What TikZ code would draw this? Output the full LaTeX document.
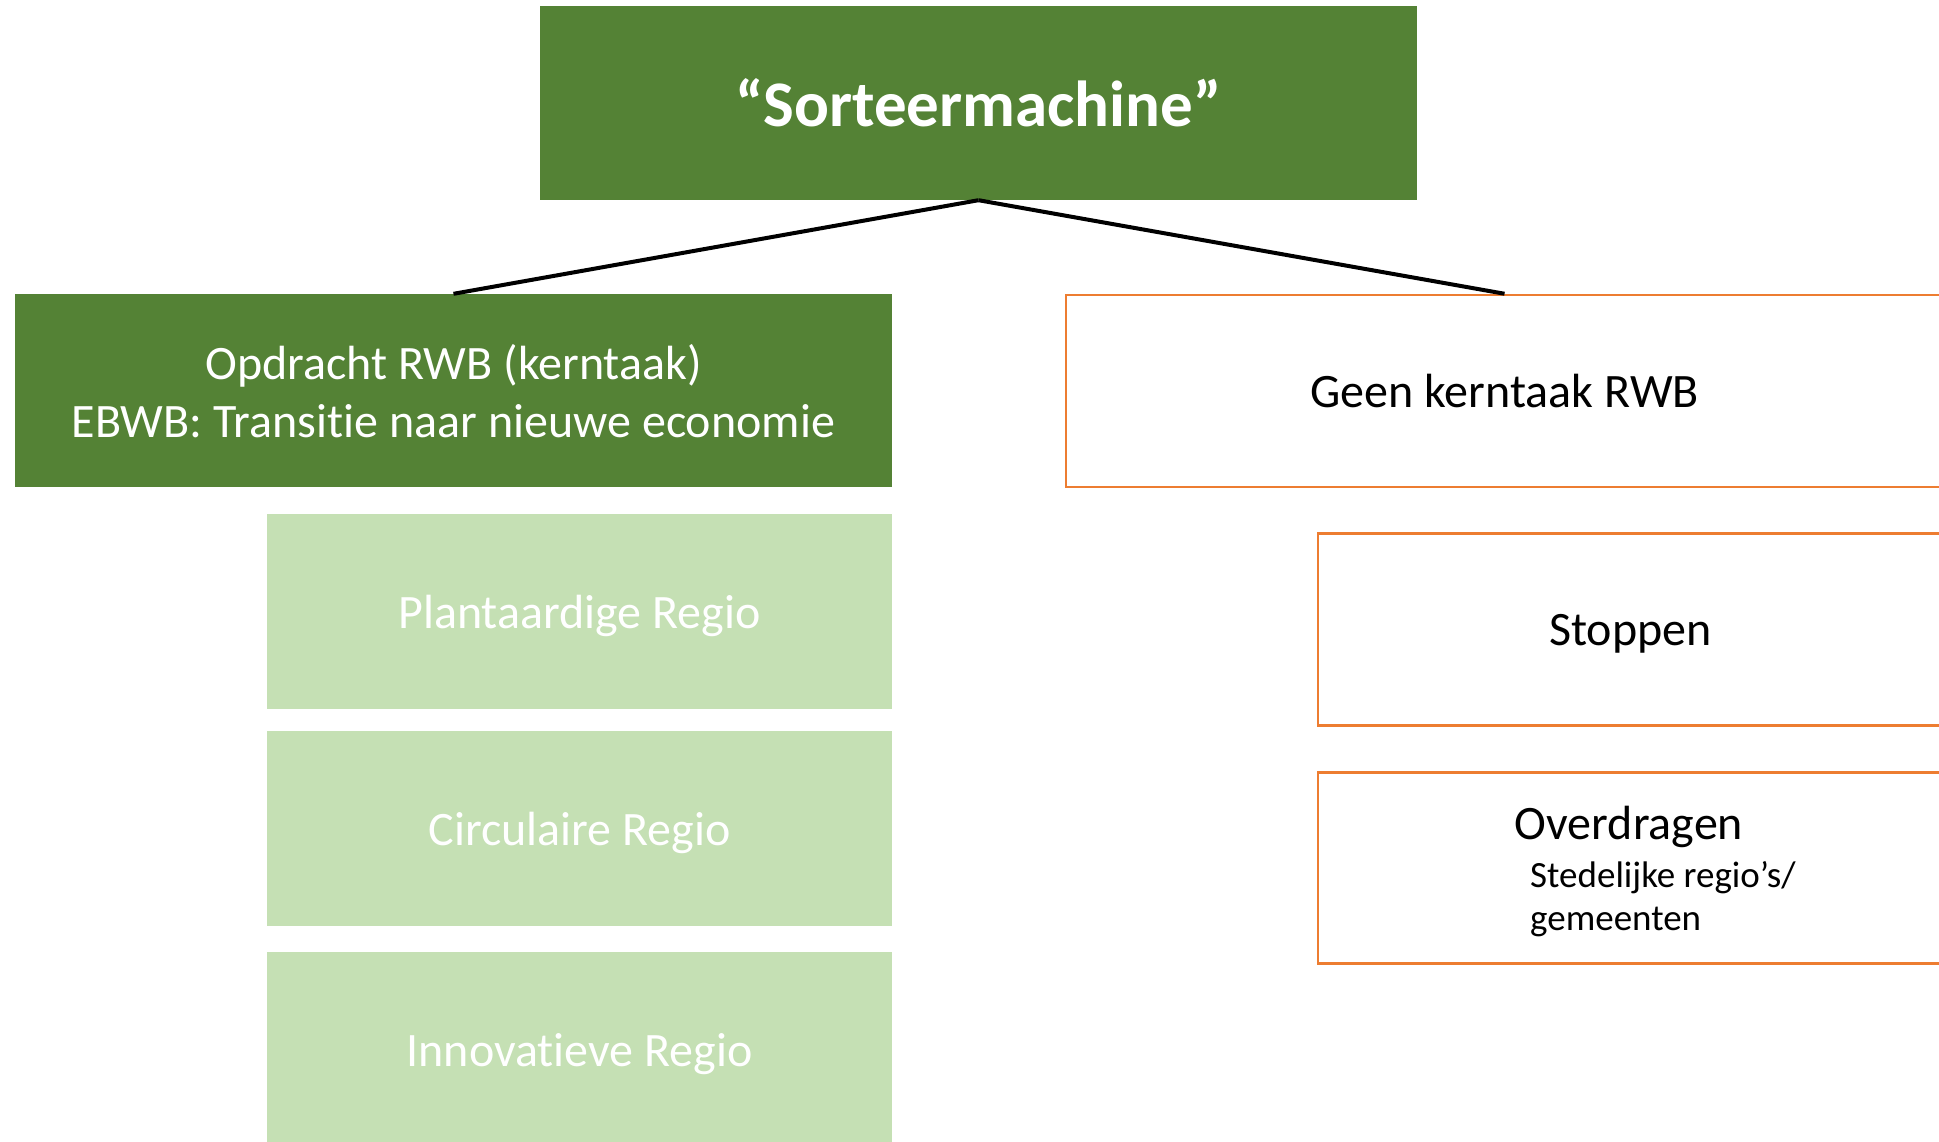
\documentclass[tikz,border=0pt]{standalone}
\usepackage{fontspec}
\setmainfont{Carlito}[Ligatures = NoCommon]
\usetikzlibrary{positioning}
\tikzstyle{slide} = [x = 1pt, y = -1pt]
\definecolor{darkGreen}{HTML}{548235}
\definecolor{lightGreen}{HTML}{C5E0B4}
\definecolor{boxOrange}{HTML}{ED7D31}
\tikzstyle{boxStyle} = [inner sep = 0pt, align = center, text depth = 0pt, font = \fontsize{48}{58}\selectfont]
\tikzstyle{darkBoxStyle} = [boxStyle, fill = darkGreen, text = white, minimum width = 877pt, minimum height = 194pt]
\tikzstyle{regionStyle} = [boxStyle, fill = lightGreen, text = white, minimum width = 625pt, minimum height = 195pt]
\tikzstyle{orangeBoxStyle} = [boxStyle, draw = boxOrange, line width = 2.5pt, fill = white, text = black, minimum height = 192pt]
\tikzstyle{noteText} = [inner sep = 0pt, align = left, font = \fontsize{37}{43}\selectfont]
\tikzstyle{treeLine} = [draw = black, line width = 4pt]
\newcommand{\regionBox}[3]{\node [regionStyle] (#1) at (579.5, #2) {#3};}

\begin{document}
\begin{tikzpicture}[slide]
  \clip (0,0) rectangle (1939,1141);

  \node [darkBoxStyle, font = \bfseries\fontsize{65}{78}\selectfont] (sorter) at (978.5, 103) {“Sorteermachine”};
  \node [darkBoxStyle, minimum height = 193pt] (core) at (453.5, 390.5) {Opdracht RWB (kerntaak)\\EBWB: Transitie naar nieuwe economie};
  \node [orangeBoxStyle, minimum width = 877pt] (noCore) at (1504.5, 391) {Geen kerntaak RWB};

  \regionBox{plant}{611.5}{Plantaardige Regio}
  \regionBox{circular}{828.5}{Circulaire Regio}
  \regionBox{innovative}{1049.5}{Innovatieve Regio}

  \node [orangeBoxStyle, minimum width = 625pt] (stop) at (1630.5, 629.5) {Stoppen};
  \node [orangeBoxStyle, minimum width = 625pt, minimum height = 191pt] (handOver) at (1630.5, 868) {};
  \node [boxStyle, anchor = base] (handOverTitle) at (1629, 839) {Overdragen};
  \node [noteText, anchor = base west] (handOverNote) at (1530, 930) {Stedelijke regio’s/\\gemeenten};

  \draw [treeLine] (sorter.south) -- (core.north);
  \draw [treeLine] (sorter.south) -- (noCore.north);
\end{tikzpicture}
\end{document}
